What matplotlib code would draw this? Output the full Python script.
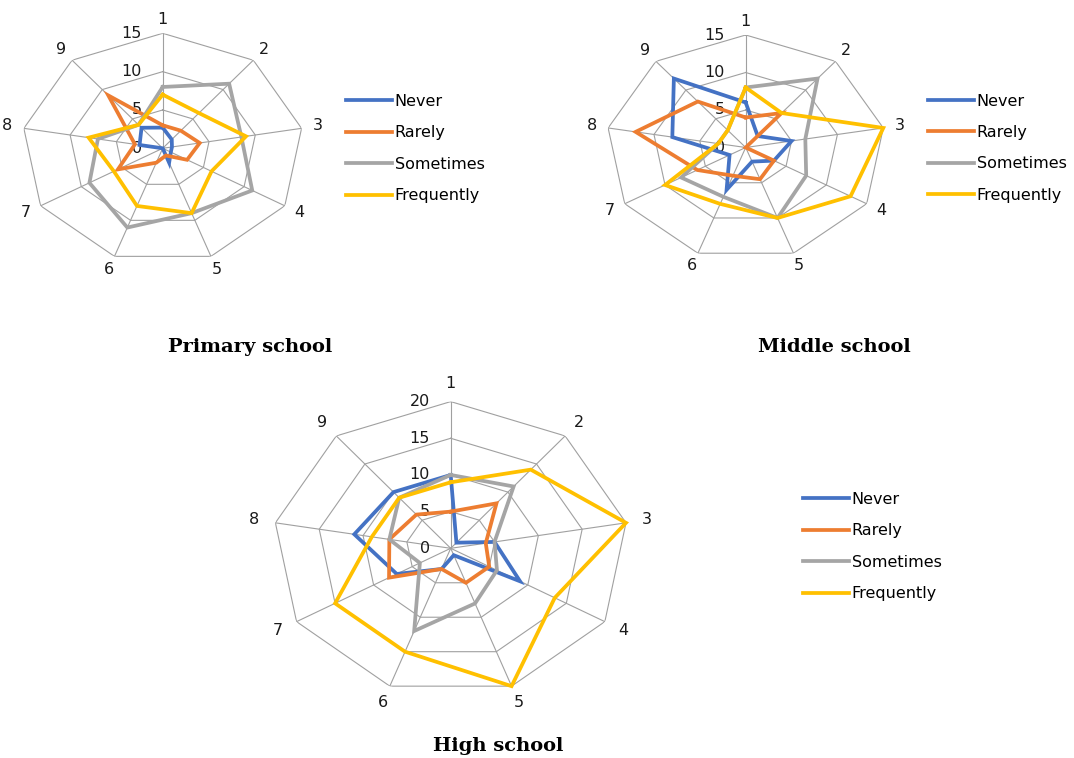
import numpy as np
import matplotlib
matplotlib.use("Agg")
import matplotlib.pyplot as plt

plt.rcParams['font.family'] = ['DejaVu Sans']

# spokes of each radar and the four answers
spokes = ['1', '2', '3', '4', '5', '6', '7', '8', '9']
answers = ['Never', 'Rarely', 'Sometimes', 'Frequently']
colors = ['#4472C4', '#ED7D31', '#A5A5A5', '#FFC000']

# Primary school
primary_never = [2.7, 1.5, 1, 1, 2, 0, 0, 2.5, 3.5]
primary_rarely = [3, 3, 4, 3, 1, 2, 5.5, 3, 9]
primary_sometimes = [8, 11, 8.5, 11, 9, 11, 9, 7, 4]
primary_frequently = [7, 6, 9, 6, 9, 8, 6, 8, 4]
primary_ticks = [0, 5, 10, 15]

# Middle school
middle_never = [6, 2, 5, 3.5, 2, 6, 2, 8, 12]
middle_rarely = [4, 6, 0, 3.5, 4.5, 4, 6, 12, 8]
middle_sometimes = [8, 12, 6.5, 7.5, 10, 7, 8, 3, 3]
middle_frequently = [8, 6, 15, 13, 10, 8, 10, 3, 3]
middle_ticks = [0, 5, 10, 15]

# High school
high_never = [10, 1, 5, 9, 1, 3, 7, 11, 10]
high_rarely = [5, 8, 4, 5, 5, 3, 8, 7, 6]
high_sometimes = [10, 11, 5, 6, 8, 12, 4, 7, 9]
high_frequently = [9, 14, 20, 13.5, 20, 15, 15, 9, 9]
high_ticks = [0, 5, 10, 15, 20]

W, H = 1074, 758
fig = plt.figure(figsize=(W / 100, H / 100), dpi=100)


def radar(cx, cy, rx, ry, ticks, data, legend_xy, title, title_xy):
    # axes box in pixels -> figure fraction (box is wider than tall, like the original)
    ax = fig.add_axes([(cx - rx) / W, 1 - (cy + ry) / H, 2 * rx / W, 2 * ry / H],
                      projection='polar')
    ax.set_aspect('auto')
    ax.set_theta_zero_location('N')
    ax.set_theta_direction(-1)
    rmax = ticks[-1]
    ax.set_ylim(0, rmax)
    ax.grid(False)
    ax.set_xticks([])
    ax.set_yticks([])
    ax.spines['polar'].set_visible(False)
    ax.patch.set_alpha(0)

    ang = np.linspace(0, 2 * np.pi, len(spokes), endpoint=False)
    closed = np.append(ang, ang[0])
    # polygon grid
    for r in ticks[1:]:
        ax.plot(closed, [r] * len(closed), color='#A0A0A0', lw=0.8, zorder=1)
    for a in ang:
        ax.plot([a, a], [0, rmax], color='#A0A0A0', lw=0.8, zorder=1)
    for a, s in zip(ang, spokes):
        ax.text(a, rmax * 1.12, s, ha='center', va='center', fontsize=11.5,
                color='#1a1a1a', clip_on=False)
    for r in ticks:
        ax.annotate(str(r), xy=(0, r), xytext=(-15, 0), textcoords='offset points',
                    ha='right', va='center', fontsize=11.5, color='#1a1a1a')

    for vals, name, c in zip(data, answers, colors):
        ax.plot(closed, vals + vals[:1], color=c, lw=2.7, label=name, zorder=3,
                solid_joinstyle='miter', clip_on=False)

    ax.legend(loc='upper left', bbox_to_anchor=legend_xy, bbox_transform=fig.transFigure,
              frameon=False, fontsize=11.5, handlelength=2.9, handletextpad=0.15,
              labelspacing=1.03, borderpad=0, borderaxespad=0)
    fig.text(title_xy[0] / W, 1 - title_xy[1] / H, title, ha='center', va='center',
             fontsize=14, fontweight='bold', family='DejaVu Serif')


radar(162.7, 148.3, 141, 115, primary_ticks,
      [primary_never, primary_rarely, primary_sometimes, primary_frequently],
      (346 / W, 1 - 94 / H), 'Primary school', (250, 347))
radar(745.7, 147.5, 139.7, 112.5, middle_ticks,
      [middle_never, middle_rarely, middle_sometimes, middle_frequently],
      (928 / W, 1 - 93.5 / H), 'Middle school', (834, 347))
radar(450.7, 548.3, 178, 146.7, high_ticks,
      [high_never, high_rarely, high_sometimes, high_frequently],
      (803 / W, 1 - 492 / H), 'High school', (498, 746))

fig.savefig('out.png', dpi=100)
